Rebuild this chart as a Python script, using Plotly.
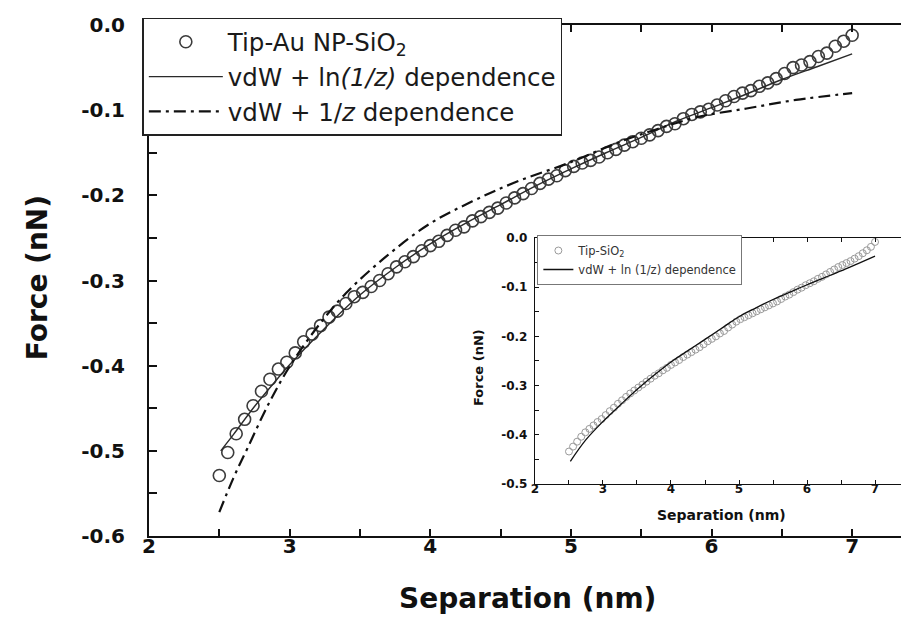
import plotly.graph_objects as go

# ---------------- data ----------------
sep = [2.50, 2.56, 2.62, 2.68, 2.74, 2.80, 2.86, 2.92, 2.98, 3.04,
       3.10, 3.16, 3.22, 3.28, 3.34, 3.40, 3.46, 3.52, 3.58, 3.64,
       3.70, 3.76, 3.82, 3.88, 3.94, 4.00, 4.06, 4.12, 4.18, 4.24,
       4.30, 4.36, 4.42, 4.48, 4.54, 4.60, 4.66, 4.72, 4.78, 4.84,
       4.90, 4.96, 5.02, 5.08, 5.14, 5.20, 5.26, 5.32, 5.38, 5.44,
       5.50, 5.56, 5.62, 5.68, 5.74, 5.80, 5.86, 5.92, 5.98, 6.04,
       6.10, 6.16, 6.22, 6.28, 6.34, 6.40, 6.46, 6.52, 6.58, 6.64,
       6.70, 6.76, 6.82, 6.88, 6.94, 7.00]

force_au = [-0.529, -0.502, -0.480, -0.463, -0.447, -0.430, -0.416, -0.404, -0.396, -0.385,
            -0.372, -0.363, -0.353, -0.343, -0.336, -0.327, -0.319, -0.314, -0.307, -0.300,
            -0.292, -0.284, -0.278, -0.272, -0.265, -0.259, -0.254, -0.247, -0.241, -0.237,
            -0.230, -0.225, -0.220, -0.215, -0.209, -0.203, -0.198, -0.192, -0.186, -0.181,
            -0.177, -0.171, -0.166, -0.162, -0.159, -0.155, -0.150, -0.146, -0.141, -0.137,
            -0.133, -0.129, -0.124, -0.119, -0.116, -0.110, -0.105, -0.102, -0.099, -0.094,
            -0.089, -0.084, -0.080, -0.077, -0.072, -0.068, -0.063, -0.057, -0.050, -0.047,
            -0.043, -0.037, -0.033, -0.025, -0.019, -0.012]

ln_x = [2.51, 2.60, 2.75, 2.90, 3.00, 3.25, 3.50, 3.75, 4.00, 4.25, 4.50,
        4.75, 5.00, 5.25, 5.50, 5.75, 6.00, 6.25, 6.50, 6.75, 7.00]
ln_y = [-0.500, -0.481, -0.448, -0.418, -0.399, -0.356, -0.317, -0.285, -0.257, -0.233, -0.211,
        -0.189, -0.169, -0.150, -0.132, -0.113, -0.097, -0.081, -0.064, -0.049, -0.034]

inv_x = [2.50, 2.60, 2.70, 2.85, 3.00, 3.20, 3.40, 3.70, 4.00, 4.30,
         4.60, 5.00, 5.35, 5.60, 5.90, 6.25, 6.60, 7.00]
inv_y = [-0.572, -0.532, -0.497, -0.445, -0.401, -0.354, -0.315, -0.270, -0.233, -0.207,
         -0.185, -0.161, -0.137, -0.123, -0.108, -0.098, -0.088, -0.080]

force_si = [-0.434, -0.424, -0.414, -0.404, -0.395, -0.388, -0.381, -0.374, -0.368, -0.360,
            -0.352, -0.345, -0.337, -0.330, -0.323, -0.316, -0.310, -0.304, -0.298, -0.292,
            -0.286, -0.280, -0.275, -0.269, -0.264, -0.258, -0.253, -0.248, -0.242, -0.237,
            -0.232, -0.227, -0.222, -0.216, -0.210, -0.205, -0.200, -0.194, -0.189, -0.182,
            -0.176, -0.170, -0.165, -0.161, -0.157, -0.153, -0.149, -0.145, -0.141, -0.137,
            -0.133, -0.129, -0.124, -0.119, -0.115, -0.110, -0.105, -0.101, -0.096, -0.092,
            -0.088, -0.083, -0.079, -0.074, -0.069, -0.064, -0.059, -0.055, -0.051, -0.047,
            -0.042, -0.037, -0.031, -0.025, -0.018, -0.008]

ins_ln_x = [2.52, 2.75, 3.00, 3.25, 3.50, 3.75, 4.00, 4.25, 4.50, 4.75,
            5.00, 5.25, 5.50, 5.75, 6.00, 6.25, 6.50, 6.75, 7.00]
ins_ln_y = [-0.454, -0.410, -0.373, -0.340, -0.308, -0.279, -0.252, -0.229, -0.206, -0.183,
            -0.160, -0.142, -0.125, -0.110, -0.095, -0.081, -0.067, -0.052, -0.037]

x_tickvals = [2, 3, 4, 5, 6, 7]
x_ticktext = ["2", "3", "4", "5", "6", "7"]
main_y_tickvals = [0.0, -0.1, -0.2, -0.3, -0.4, -0.5, -0.6]
main_y_ticktext = ["0.0", "-0.1", "-0.2", "-0.3", "-0.4", "-0.5", "-0.6"]
inset_y_tickvals = [0.0, -0.1, -0.2, -0.3, -0.4, -0.5]
inset_y_ticktext = ["0.0", "-0.1", "-0.2", "-0.3", "-0.4", "-0.5"]

FONT = "DejaVu Sans"
INK = "#111111"

fig = go.Figure()

fig.add_trace(go.Scatter(
    x=sep, y=force_au, mode="markers", name="Tip-Au NP-SiO<sub>2</sub>",
    marker=dict(symbol="circle-open", size=12, color="#3c3c3c", line=dict(width=1.6)),
    legend="legend"))
fig.add_trace(go.Scatter(
    x=ln_x, y=ln_y, mode="lines", name="vdW + ln<i>(1/z)</i> dependence",
    line=dict(color="#2a2a2a", width=1.4, shape="spline"), legend="legend"))
fig.add_trace(go.Scatter(
    x=inv_x, y=inv_y, mode="lines", name="vdW + 1/<i>z</i> dependence",
    line=dict(color=INK, width=2.2, dash="12px,5px,3px,5px", shape="spline"),
    legend="legend"))

fig.add_trace(go.Scatter(
    x=sep, y=force_si, mode="markers", name="Tip-SiO<sub>2</sub>",
    marker=dict(symbol="circle-open", size=7, color="#9a9a9a", line=dict(width=1)),
    xaxis="x2", yaxis="y2", legend="legend2"))
fig.add_trace(go.Scatter(
    x=ins_ln_x, y=ins_ln_y, mode="lines", name="vdW + ln (1/z) dependence",
    line=dict(color=INK, width=1.3, shape="spline"),
    xaxis="x2", yaxis="y2", legend="legend2"))

axis_common = dict(showgrid=False, zeroline=False, showline=True, linecolor=INK,
                   ticks="inside", tickcolor=INK)

fig.update_layout(
    width=909, height=622,
    margin=dict(l=141, r=0, t=17, b=94),
    paper_bgcolor="white", plot_bgcolor="white",
    xaxis=dict(**axis_common, range=[2, 7.447], domain=[0, 1], linewidth=2,
               tickvals=x_tickvals, ticktext=x_ticktext, ticklen=7, tickwidth=2, mirror="ticks",
               minor=dict(dtick=0.5, ticks="inside", ticklen=7, tickwidth=2, tickcolor=INK),
               tickfont=dict(family=FONT, size=20, weight="bold", color=INK),
               ticklabelstandoff=-9),
    yaxis=dict(**axis_common, range=[-0.6, 0], domain=[0, 1], linewidth=2,
               tickvals=main_y_tickvals, ticktext=main_y_ticktext, ticklen=8, tickwidth=2,
               mirror="ticks",
               minor=dict(dtick=0.05, ticks="inside", ticklen=8, tickwidth=2, tickcolor=INK),
               tickfont=dict(family=FONT, size=20, weight="bold", color=INK),
               ticklabelstandoff=18),
    xaxis2=dict(**axis_common, range=[2, 7.5], domain=[0.5039, 0.9922], anchor="y2",
                linewidth=1.3, tickvals=x_tickvals, ticktext=x_ticktext, ticklen=4,
                tickwidth=1.2, mirror="ticks",
                minor=dict(dtick=0.5, ticks="inside", ticklen=4, tickwidth=1.2, tickcolor=INK),
                tickfont=dict(family=FONT, size=12, weight="bold", color=INK),
                ticklabelstandoff=-7),
    yaxis2=dict(**axis_common, range=[-0.5, 0], domain=[0.1018, 0.5832], anchor="x2",
                linewidth=1.3, tickvals=inset_y_tickvals, ticktext=inset_y_ticktext,
                ticklen=4, tickwidth=1.2, mirror="ticks",
                minor=dict(dtick=0.05, ticks="inside", ticklen=4, tickwidth=1.2, tickcolor=INK),
                tickfont=dict(family=FONT, size=12, weight="bold", color=INK),
                ticklabelstandoff=4),
    legend=dict(x=-0.0087, y=1.014, xanchor="left", yanchor="top",
                bgcolor="white", bordercolor="#222222", borderwidth=1.5,
                font=dict(family=FONT, size=24.5, color="#1a1a1a"),
                itemwidth=74, tracegroupgap=0),
    legend2=dict(x=0.507, y=0.589, xanchor="left", yanchor="top",
                 bgcolor="white", bordercolor="#777777", borderwidth=1,
                 font=dict(family=FONT, size=11.5, color="#333333"),
                 itemwidth=30, tracegroupgap=0),
    showlegend=True,
)

annos = [
    dict(text="Separation (nm)", x=0.494, y=-0.123, xref="paper", yref="paper",
         showarrow=False, xanchor="center", yanchor="middle",
         font=dict(family=FONT, size=28, weight="bold", color=INK)),
    dict(text="Force (nN)", x=-0.1445, y=0.505, xref="paper", yref="paper",
         showarrow=False, xanchor="center", yanchor="middle", textangle=-90,
         font=dict(family=FONT, size=28, weight="bold", color=INK)),
    dict(text="Separation (nm)", x=0.747, y=0.041, xref="paper", yref="paper",
         showarrow=False, xanchor="center", yanchor="middle",
         font=dict(family=FONT, size=14, weight="bold", color=INK)),
    dict(text="Force (nN)", x=0.431, y=0.329, xref="paper", yref="paper",
         showarrow=False, xanchor="center", yanchor="middle", textangle=-90,
         font=dict(family=FONT, size=13, weight="bold", color=INK)),
]
fig.update_layout(annotations=annos)

fig.write_html("out.html")
